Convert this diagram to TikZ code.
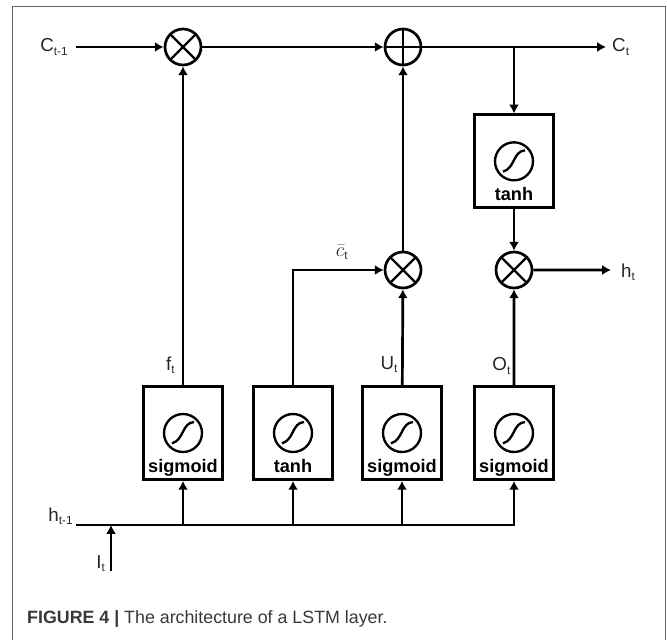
\documentclass[tikz,border=0pt]{standalone}
\usepackage{xcolor}
\usepackage{fontspec}
\setmainfont{Liberation Sans}
\usetikzlibrary{positioning,arrows.meta}
\newcommand{\lsub}[1]{\textsubscript{\fontsize{10}{10}\selectfont #1}}
\tikzset{
  mul/.style   ={draw, circle, line width=2.3pt, minimum size=1.08cm, inner sep=0pt, path picture={
      \draw[line width=2pt] (path picture bounding box.north west) -- (path picture bounding box.south east);
      \draw[line width=2pt] (path picture bounding box.north east) -- (path picture bounding box.south west);}},
  add/.style   ={draw, circle, line width=2.3pt, minimum size=1.08cm, inner sep=0pt, path picture={
      \draw[line width=1.5pt] (path picture bounding box.north) -- (path picture bounding box.south);
      \draw[line width=1.5pt] (path picture bounding box.east) -- (path picture bounding box.west);}},
  actbox/.style={draw, rectangle, line width=2.4pt, minimum width=2.37cm, minimum height=2.79cm},
  act/.style   ={draw, circle, line width=2pt, minimum size=1.14cm, inner sep=0pt, path picture={
      \draw[line width=2pt, shift={(path picture bounding box.center)}]
        (-.33,-.31) .. controls (.04,-.2) and (-.04,.3) .. (.33,.33);}},
  acttxt/.style={font=\bfseries\fontsize{15.5}{18}\selectfont, inner sep=0pt, text height=15pt, text depth=3pt},
  lab/.style   ={font=\fontsize{16}{18}\selectfont, inner sep=0pt, text=black!85},
  arr/.style   ={-{Latex[length=7.5pt,width=8.5pt]}, line width=2.3pt},
}

\begin{document}
\begin{tikzpicture}[on grid]
  \useasboundingbox (0,0) rectangle (20.01,-19.17);
  % outer frame, open at the bottom
  \draw[black!60, line width=1.1pt] (0.37,-19.3) -- (0.37,-0.2) -- (19.96,-0.2) -- (19.96,-19.3);

  % top row
  \node[mul] at (5.49,-1.41) (mula) {};
  \node[add, right=6.6cm of mula] (sum) {};
  \node[mul, below=6.69cm of sum] (mulb) {};
  \node[mul, right=3.33cm of mulb] (mulc) {};
  \node[actbox, above=3.26cm of mulc] (tanhb) {};
  \node[act] at (tanhb) (tanhbact) {};
  \node[acttxt, below=0.96cm of tanhbact] (tanhbtxt) {tanh};

  % gate row
  \node[actbox, below=11.58cm of mula] (siga) {};
  \node[actbox, right=3.3cm of siga] (tanha) {};
  \node[actbox, right=3.27cm of tanha] (sigb) {};
  \node[actbox, right=3.36cm of sigb] (sigc) {};
  \node[act] at (siga) (sigaact) {};
  \node[act] at (tanha) (tanhaact) {};
  \node[act] at (sigb) (sigbact) {};
  \node[act] at (sigc) (sigcact) {};
  \node[acttxt, below=0.96cm of sigaact] (sigatxt) {sigmoid};
  \node[acttxt, below=0.96cm of tanhaact] (tanhatxt) {tanh};
  \node[acttxt, below=0.96cm of sigbact] (sigbtxt) {sigmoid};
  \node[acttxt, below=0.96cm of sigcact] (sigctxt) {sigmoid};

  % free ends
  \coordinate (cin) at (2.28,-1.41);
  \coordinate (cout) at (18.18,-1.41);
  \coordinate (hout) at (18.33,-8.1);
  \coordinate (hin) at (2.28,-15.75);
  \coordinate (iin) at (3.33,-17.13);

  % outer labels
  \node[lab, anchor=east] at (2.05,-1.41) (cinlab) {C\lsub{t-1}};
  \node[lab, anchor=west] at (18.36,-1.41) (coutlab) {C\lsub{t}};
  \node[lab, anchor=west] at (18.63,-8.16) (houtlab) {h\lsub{t}};
  \node[lab, anchor=east] at (2.2,-15.5) (hinlab) {h\lsub{t-1}};
  \node[lab, anchor=east] at (3.17,-16.9) (iinlab) {I\lsub{t}};
  \node[lab] at (5.12,-10.95) (flab) {f\lsub{t}};
  \node[lab] at (10.26,-7.56) (cbarlab) {$\bar{c}$\lsub{t}};
  \node[lab] at (11.68,-10.95) (ulab) {U\lsub{t}};
  \node[lab] at (15.05,-10.98) (olab) {O\lsub{t}};

  % connectors
  \draw[arr] (cin) -- (mula);
  \draw[arr] (mula) -- (sum);
  \draw[arr] (sum) -- (cout);
  \draw[arr] (tanhb.north |- sum) -- (tanhb);
  \draw[arr] (tanhb) -- (mulc);
  \draw[arr] (mulc) -- (hout);
  \draw[arr] (siga) -- (mula);
  \draw[arr] (sigb) -- (mulb);
  \draw[arr] (mulb) -- (sum);
  \draw[arr] (sigc) -- (mulc);
  \draw[arr] (tanha.north) |- (mulb);

  \draw[arr] (hin) -- (hin -| sigc) -- (sigc);
  \draw[arr] (hin -| siga) -- (siga);
  \draw[arr] (hin -| tanha) -- (tanha);
  \draw[arr] (hin -| sigb) -- (sigb);
  \draw[arr] (iin) -- (iin |- hin);

  \node[anchor=base west, inner sep=0pt, text=black!78, font=\fontsize{15.2}{18}\selectfont] at (0.81,-18.71) (caption)
    {\textbf{FIGURE 4 | }The architecture of a LSTM layer.};
\end{tikzpicture}
\end{document}
